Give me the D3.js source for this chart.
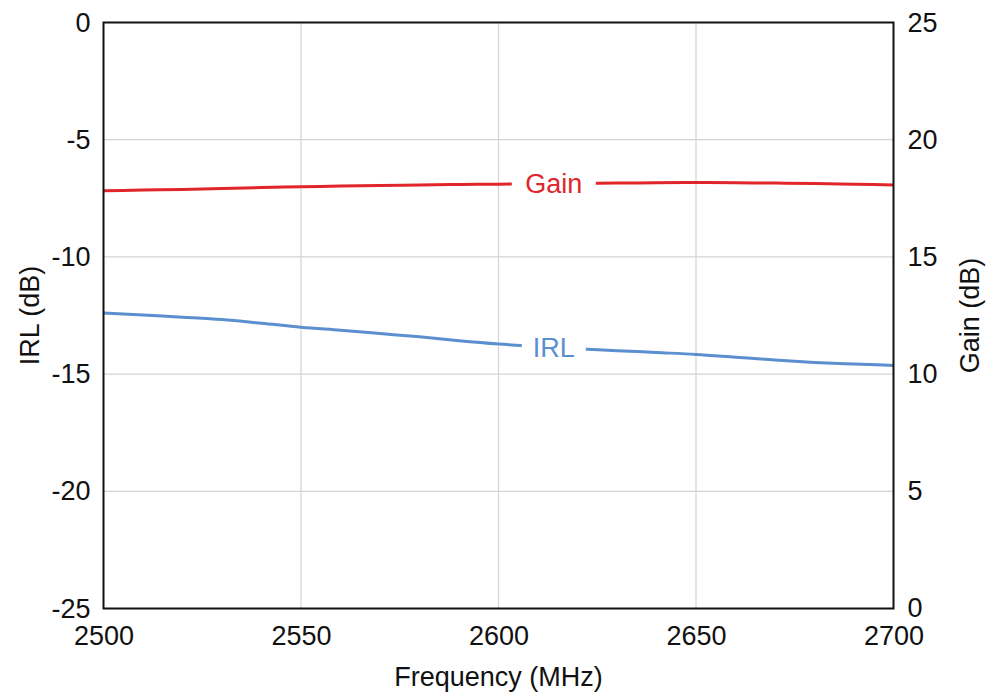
<!DOCTYPE html>
<html>
<head>
<meta charset="utf-8">
<script src="https://cdn.jsdelivr.net/npm/d3@7"></script>
<style>
  body { margin: 0; background: #fff; }
  svg { display: block; font-family: "Liberation Sans", Arial, sans-serif; }
</style>
</head>
<body>
<svg id="graphique" width="989" height="697"></svg>
<script>
// frequency points (MHz)
var freq = [2500, 2510, 2520, 2530, 2540, 2550, 2560, 2570, 2580, 2590, 2600,
            2610, 2620, 2630, 2640, 2650, 2660, 2670, 2680, 2690, 2700];
// gain (dB), right axis
var gain = [17.82, 17.85, 17.88, 17.92, 17.96, 17.99, 18.02, 18.05, 18.07, 18.09, 18.10,
            18.12, 18.13, 18.15, 18.16, 18.17, 18.16, 18.15, 18.13, 18.10, 18.07];
// input return loss (dB), left axis
var irl = [-12.39, -12.48, -12.57, -12.67, -12.83, -13.00, -13.13, -13.27, -13.41, -13.58, -13.72,
           -13.82, -13.92, -14.00, -14.08, -14.16, -14.28, -14.40, -14.50, -14.57, -14.63];

var xTicks = [2500, 2550, 2600, 2650, 2700];
var irlTicks = [0, -5, -10, -15, -20, -25];
var gainTicks = [0, 5, 10, 15, 20, 25];

var WIDTH = 989, HEIGHT = 697;
var MARGINS = { top: 22.5, right: 95.5, bottom: 88.5, left: 103.5 };

var graphique = d3.select("#graphique");

var xScale = d3.scaleLinear().domain([2500, 2700]).range([MARGINS.left, WIDTH - MARGINS.right]);
var yLeft = d3.scaleLinear().domain([-25, 0]).range([HEIGHT - MARGINS.bottom, MARGINS.top]);
var yRight = d3.scaleLinear().domain([0, 25]).range([HEIGHT - MARGINS.bottom, MARGINS.top]);

var x0 = MARGINS.left, x1 = WIDTH - MARGINS.right;
var y0 = MARGINS.top, y1 = HEIGHT - MARGINS.bottom;

//// grille
var grid = graphique.append("g").attr("stroke", "#d4d4d4").attr("stroke-width", 1.2);
xTicks.slice(1, -1).forEach(function(d){
  grid.append("line").attr("x1", xScale(d)).attr("x2", xScale(d)).attr("y1", y0).attr("y2", y1);
});
irlTicks.slice(1, -1).forEach(function(d){
  grid.append("line").attr("x1", x0).attr("x2", x1).attr("y1", yLeft(d)).attr("y2", yLeft(d));
});

//// axes (labels only, the frame is drawn after)
var fs = 27;
var fmt = function(d){ return String(d); };
var xAxis = d3.axisBottom(xScale).tickValues(xTicks).tickSize(0).tickPadding(17).tickFormat(fmt);
var gx = graphique.append("g").attr("transform", "translate(0," + y1 + ")").call(xAxis);

var yAxisL = d3.axisLeft(yLeft).tickValues(irlTicks).tickSize(0).tickPadding(13).tickFormat(fmt);
var gl = graphique.append("g").attr("transform", "translate(" + x0 + ",0)").call(yAxisL);

var yAxisR = d3.axisRight(yRight).tickValues(gainTicks).tickSize(0).tickPadding(14).tickFormat(fmt);
var gr = graphique.append("g").attr("transform", "translate(" + x1 + ",0)").call(yAxisR);

[gx, gl, gr].forEach(function(g){
  g.select(".domain").remove();
  g.selectAll("text").attr("font-size", fs).attr("fill", "#111").attr("font-family", "Liberation Sans, Arial, sans-serif");
});
gx.selectAll("text").attr("dy", "0.71em");
// the lowest right label sits a touch higher so it clears "2700"
gr.selectAll("text").filter(function(d){ return d === 0; }).attr("dy", "0.28em");

//// courbes
var lineGain = d3.line().x(function(d, i){ return xScale(freq[i]); }).y(function(d){ return yRight(d); }).curve(d3.curveMonotoneX);
var lineIrl = d3.line().x(function(d, i){ return xScale(freq[i]); }).y(function(d){ return yLeft(d); }).curve(d3.curveMonotoneX);

graphique.append("path").attr("d", lineGain(gain)).attr("fill", "none").attr("stroke", "#e0262b").attr("stroke-width", 3);
graphique.append("path").attr("d", lineIrl(irl)).attr("fill", "none").attr("stroke", "#5b8fcf").attr("stroke-width", 3);

//// étiquettes sur les courbes
function label(txt, f, v, scale, couleur, w){
  var cx = xScale(f), cy = scale(v);
  graphique.append("rect").attr("x", cx - w / 2).attr("y", cy - 12).attr("width", w).attr("height", 24).attr("fill", "#fff");
  graphique.append("text").attr("x", cx).attr("y", cy).attr("dy", "0.36em")
    .attr("text-anchor", "middle").attr("font-size", fs).attr("fill", couleur).text(txt);
}
label("Gain", 2614, 18.12, yRight, "#e0262b", 84);
label("IRL", 2614, -13.84, yLeft, "#5b8fcf", 64);

//// cadre
graphique.append("rect").attr("x", x0).attr("y", y0).attr("width", x1 - x0).attr("height", y1 - y0)
  .attr("fill", "none").attr("stroke", "#111").attr("stroke-width", 2);

//// titres des axes
graphique.append("text").attr("x", (x0 + x1) / 2).attr("y", 686).attr("text-anchor", "middle")
  .attr("font-size", fs).attr("fill", "#111").text("Frequency (MHz)");
graphique.append("text").attr("transform", "translate(39," + ((y0 + y1) / 2) + ") rotate(-90)")
  .attr("text-anchor", "middle").attr("font-size", fs).attr("fill", "#111").text("IRL (dB)");
graphique.append("text").attr("transform", "translate(979," + ((y0 + y1) / 2) + ") rotate(-90)")
  .attr("text-anchor", "middle").attr("font-size", fs).attr("fill", "#111").text("Gain (dB)");
</script>
</body>
</html>
